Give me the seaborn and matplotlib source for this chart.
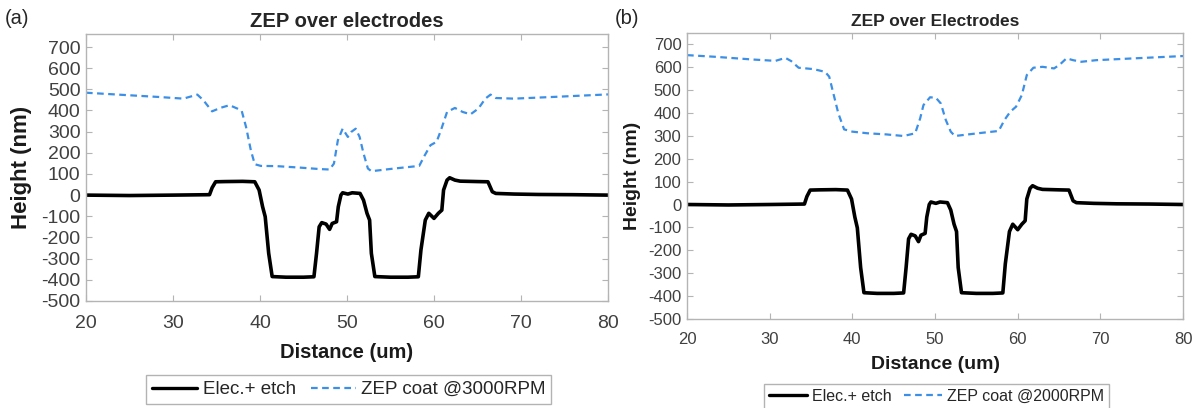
import numpy as np
import pandas as pd
import matplotlib
matplotlib.use("Agg")
import matplotlib.pyplot as plt
import seaborn as sns
from matplotlib.lines import Line2D

# ---------------- data ----------------
etch_x = [20, 25, 30, 34.2, 34.5, 34.9, 36, 38, 39.4, 39.9, 40.3, 40.6, 41.0, 41.4,
          43, 45, 46.2, 46.5, 46.8, 47.1, 47.6, 48.0, 48.3, 48.8, 49.0, 49.3, 49.5,
          50.1, 50.6, 51.5, 51.9, 52.3, 52.6, 52.8, 53.2, 55, 57, 58.2, 58.5, 59.0,
          59.4, 60.0, 60.5, 60.9, 61.1, 61.5, 61.8, 62.4, 63.0, 65, 66.2, 66.7, 67.1,
          69.2, 72, 76, 80]
etch_y = [0, -2, 0, 2, 35, 63, 64, 65, 63, 24, -55, -102, -275, -385,
          -388, -388, -386, -275, -150, -130, -137, -162, -134, -126, -55, 0, 11,
          5, 11, 8, -24, -86, -118, -275, -385, -388, -388, -386, -259, -118,
          -86, -110, -86, -71, 24, 71, 82, 71, 66, 64, 63, 16, 8,
          5, 3, 2, 0]

zep3000_x = [20, 23.7, 28.3, 31.2, 32.8, 33.5, 34.5, 35.5, 36.5, 37.4, 37.9, 38.4,
             38.95, 39.4, 40.1, 41.9, 44.6, 46.9, 48.0, 48.5, 48.95, 49.5, 50.1,
             50.5, 51.0, 51.45, 51.9, 52.4, 52.8, 55.5, 58.3, 58.95, 59.6, 60.3,
             60.8, 61.5, 62.4, 63.3, 64.2, 65.1, 65.9, 66.5, 67.1, 69.2, 73.7, 80]
zep3000_y = [484, 475, 464, 456, 475, 448, 396, 413, 425, 409, 398, 322,
             212, 146, 138, 137, 130, 123, 121, 149, 259, 314, 275,
             299, 314, 275, 197, 126, 113, 126, 138, 189, 236, 252,
             307, 393, 412, 393, 382, 409, 456, 475, 459, 456, 464, 476]

zep2000_x = [20, 23.3, 27.9, 30.7, 31.9, 32.6, 33.5, 35.3, 36.7, 37.2, 37.7, 38.3,
             39.0, 40.0, 41.8, 44.1, 46.2, 47.6, 48.2, 48.6, 49.4, 50.1, 50.7,
             51.3, 51.9, 52.4, 55.2, 57.7, 58.4, 59.1, 59.8, 60.5, 61.1, 61.9,
             63.0, 64.4, 65.1, 65.9, 66.7, 67.7, 69.5, 74.1, 80]
zep2000_y = [652, 645, 633, 627, 640, 626, 597, 591, 579, 558, 485, 398,
             328, 318, 311, 306, 299, 311, 376, 434, 468, 466, 441,
             369, 318, 299, 311, 321, 369, 405, 427, 478, 565, 597,
             601, 594, 611, 638, 630, 623, 630, 638, 648]

titles = ["ZEP over electrodes", "ZEP over Electrodes"]
panel_labels = ["(a)", "(b)"]
etch_label = "Elec.+ etch"
zep_labels = ["ZEP coat @3000RPM", "ZEP coat @2000RPM"]
yticks = list(range(-500, 701, 100))
xticks = list(range(20, 81, 10))

# ---------------- style ----------------
sns.set_theme(style="white")
plt.rcParams['font.family'] = ['Liberation Sans', 'DejaVu Sans']
plt.rcParams['axes.unicode_minus'] = False

BLUE = "#3c8fe6"
TICKC = "#404040"
SPINEC = "#b4b4b4"

fig = plt.figure(figsize=(11.99, 4.08), dpi=100)
axA = fig.add_axes([0.0717, 0.2625, 0.4354, 0.6534])
axB = fig.add_axes([0.573, 0.218, 0.4137, 0.7019])

cfg = [
    dict(ax=axA, zx=zep3000_x, zy=zep3000_y, ylim=(-500, 760), tick=14, lab=14.5,
         ylab=16, title=14.5, legfs=13.5, legc=(0.291, 0.045), lblx=0.004, lbly=0.955,
         ylx=-0.104, xpad=10, xlpad=8),
    dict(ax=axB, zx=zep2000_x, zy=zep2000_y, ylim=(-500, 750), tick=12, lab=14,
         ylab=14, title=12.5, legfs=11.5, legc=(0.781, 0.028), lblx=0.513, lbly=0.955,
         ylx=-0.093, xpad=9.5, xlpad=6),
]

for i, c in enumerate(cfg):
    ax = c["ax"]
    df_e = pd.DataFrame({"x": etch_x, "y": etch_y})
    df_z = pd.DataFrame({"x": c["zx"], "y": c["zy"]})
    sns.lineplot(data=df_e, x="x", y="y", ax=ax, color="black", lw=2.6,
                 estimator=None, sort=False)
    sns.lineplot(data=df_z, x="x", y="y", ax=ax, color=BLUE, lw=1.6,
                 estimator=None, sort=False, dashes=False)
    ax.lines[-1].set_dashes((3, 2))
    ax.set_xlim(20, 80)
    ax.set_ylim(*c["ylim"])
    ax.set_xticks(xticks)
    ax.set_yticks(yticks)
    ax.tick_params(axis="both", which="both", direction="in", length=4,
                   width=0.8, color=SPINEC, labelcolor=TICKC,
                   labelsize=c["tick"], top=True, right=True, bottom=True, left=True,
                   pad=4)
    ax.tick_params(axis="x", pad=c["xpad"])
    for s in ax.spines.values():
        s.set_color(SPINEC)
        s.set_linewidth(1.0)
    ax.set_xlabel("Distance (um)", fontsize=c["lab"], fontweight="bold", color="#1a1a1a",
                  labelpad=c["xlpad"])
    ax.set_ylabel("Height (nm)", fontsize=c["ylab"], fontweight="bold", color="#1a1a1a")
    ax.yaxis.set_label_coords(c["ylx"], 0.5)
    ax.set_title(titles[i], fontsize=c["title"], fontweight="bold", pad=5)
    fig.text(c["lblx"], c["lbly"], panel_labels[i], fontsize=14.5, ha="left", va="center")
    handles = [Line2D([], [], color="black", lw=2.4),
               Line2D([], [], color=BLUE, lw=1.6, dashes=(3, 2))]
    leg = fig.legend(handles, [etch_label, zep_labels[i]], ncol=2, loc="center",
                     bbox_to_anchor=c["legc"], fontsize=c["legfs"], frameon=True,
                     fancybox=False, edgecolor="#a0a0a0", handlelength=2.4,
                     handletextpad=0.3, columnspacing=0.8, borderpad=0.3)
    leg.get_frame().set_linewidth(1.0)

fig.savefig("out.png", dpi=100)
